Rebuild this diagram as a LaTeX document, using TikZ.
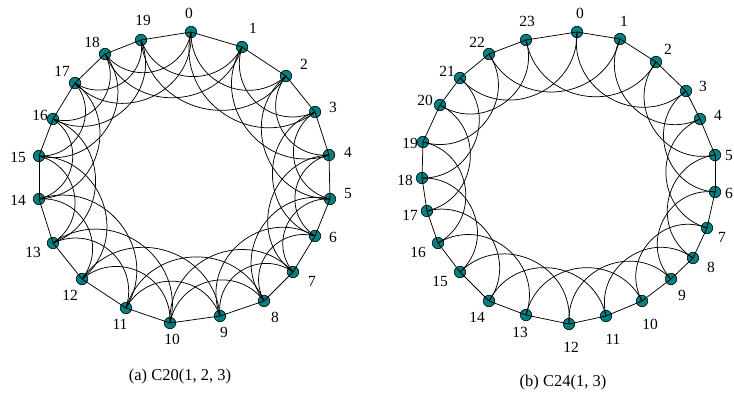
\documentclass[tikz,border=0pt]{standalone}
\usepackage{fontspec}
\setmainfont{Liberation Serif}
\definecolor{nodeteal}{RGB}{0,128,128}
\tikzset{
  vtx/.style={circle,draw=black,fill=nodeteal,line width=0.6pt,minimum size=11.5pt,inner sep=0pt},
  lbl/.style={font=\fontsize{15.5}{17}\selectfont,inner sep=0pt},
  captxt/.style={font=\fontsize{16.5}{18}\selectfont,inner sep=0pt},
  gedge/.style={line width=0.75pt,black},
  arctwo/.style={bend right=66,looseness=1.22},
  arcthree/.style={bend right=70,looseness=1.25},
}
\begin{document}
\begin{tikzpicture}[x=1pt,y=1pt]
\useasboundingbox (0,0) rectangle (734,397);
% ---------- left graph C20(1,2,3)
\foreach \n/\x/\y/\lx/\ly in {
 0/191/365/189/384, 1/242/350/253/369, 2/286/321/304/333, 3/315/285/333/290,
 4/329/242/348/245, 5/330/198/348/203, 6/315/161/333/160, 7/293/125/312/116,
 8/264/96/275/80, 9/220/81/224/65, 10/170/74/172/58, 11/126/89/120/73,
 12/82/118/70/102, 13/53/154/33/145, 14/39/198/18/197, 15/39/241/18/240,
 16/53/278/40/282, 17/75/314/62/326, 18/105/343/92/355, 19/141/357/143/377}
{
  \node[vtx] (a\n) at (\x,\y) {};
  \node[lbl] (al\n) at (\lx,\ly) {\n};
}
\foreach \i in {0,...,19}{
  \pgfmathtruncatemacro\j{mod(\i+1,20)}
  \pgfmathtruncatemacro\k{mod(\i+2,20)}
  \pgfmathtruncatemacro\m{mod(\i+3,20)}
  \draw[gedge] (a\i.center) -- (a\j.center);
  \draw[gedge] (a\i.center) to[arctwo] (a\k.center);
  \draw[gedge] (a\i.center) to[arcthree] (a\m.center);
}
\node[captxt] (capa) at (180,20) {(a) C20(1, 2, 3)};
% ---------- right graph C24(1,3)
\foreach \n/\x/\y/\lx/\ly in {
 0/577/365/580/384, 1/620/358/624/376, 2/656/335/668/348, 3/686/306/703/311,
 4/700/278/718/282, 5/715/242/729/241, 6/715/205/729/204, 7/707/169/722/160,
 8/693/139/711/130, 9/671/118/682/102, 10/642/96/650/73, 11/606/81/613/58,
 12/569/73/571/50, 13/526/82/520/65, 14/489/96/477/80, 15/460/125/440/116,
 16/438/154/418/145, 17/427/186/410/182, 18/422/219/405/217, 19/423/255/410/254,
 20/440/292/425/297, 21/460/319/447/326, 22/489/343/477/355, 23/526/357/527/376}
{
  \node[vtx] (b\n) at (\x,\y) {};
  \node[lbl] (bl\n) at (\lx,\ly) {\n};
}
\foreach \i in {0,...,23}{
  \pgfmathtruncatemacro\j{mod(\i+1,24)}
  \pgfmathtruncatemacro\m{mod(\i+3,24)}
  \draw[gedge] (b\i.center) -- (b\j.center);
  \draw[gedge] (b\i.center) to[arcthree] (b\m.center);
}
\node[captxt] (capb) at (563,14) {(b) C24(1, 3)};
\end{tikzpicture}
\end{document}
